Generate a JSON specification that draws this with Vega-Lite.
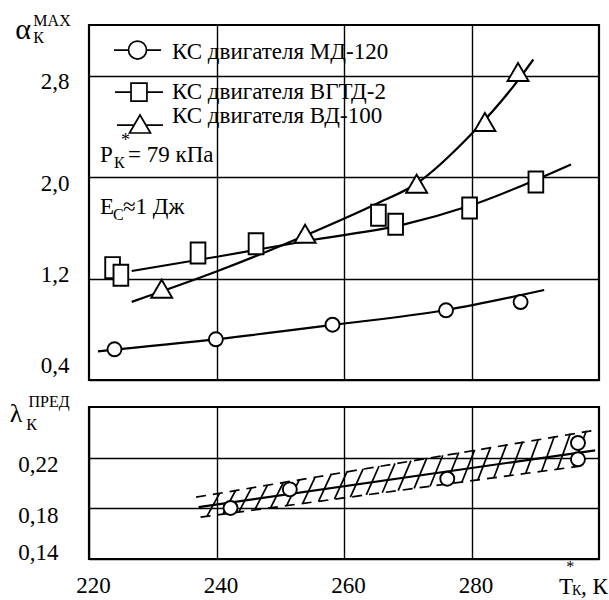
{
  "$schema": "https://vega.github.io/schema/vega-lite/v6.json",
  "padding": {"left": 8, "top": 11, "right": 0, "bottom": 0},
  "spacing": 27,
  "bounds": "flush",
  "config": {
    "view": {"stroke": "black", "strokeWidth": 2.2},
    "font": "Liberation Serif, DejaVu Serif, serif",
    "axis": {"labelFont": "Liberation Serif, DejaVu Serif, serif", "labelFontSize": 23, "labelColor": "black", "ticks": false, "domain": false, "grid": true, "gridColor": "black", "gridWidth": 1.4, "gridOpacity": 1},
    "text": {"font": "Liberation Serif, DejaVu Serif, serif", "color": "black"}
  },
  "datasets": {
    "curves": [
      {"s": "КС двигателя МД-120", "T": 221.4, "v": 0.626},
      {"s": "КС двигателя МД-120", "T": 240, "v": 0.722},
      {"s": "КС двигателя МД-120", "T": 258.2, "v": 0.834},
      {"s": "КС двигателя МД-120", "T": 276, "v": 0.952},
      {"s": "КС двигателя МД-120", "T": 291.4, "v": 1.11},
      {"s": "КС двигателя ВГТД-2", "T": 226.7, "v": 1.26},
      {"s": "КС двигателя ВГТД-2", "T": 240.5, "v": 1.376},
      {"s": "КС двигателя ВГТД-2", "T": 255.7, "v": 1.51},
      {"s": "КС двигателя ВГТД-2", "T": 269.3, "v": 1.625},
      {"s": "КС двигателя ВГТД-2", "T": 279.5, "v": 1.77},
      {"s": "КС двигателя ВГТД-2", "T": 295.6, "v": 2.1},
      {"s": "КС двигателя ВД-100", "T": 226.7, "v": 1.016},
      {"s": "КС двигателя ВД-100", "T": 240.5, "v": 1.265},
      {"s": "КС двигателя ВД-100", "T": 255.2, "v": 1.567},
      {"s": "КС двигателя ВД-100", "T": 265.1, "v": 1.79},
      {"s": "КС двигателя ВД-100", "T": 271.4, "v": 1.95},
      {"s": "КС двигателя ВД-100", "T": 279.8, "v": 2.33},
      {"s": "КС двигателя ВД-100", "T": 286.6, "v": 2.718},
      {"s": "КС двигателя ВД-100", "T": 289.7, "v": 2.928}
    ],
    "pts": [
      {"s": "КС двигателя МД-120", "T": 224.0, "v": 0.642},
      {"s": "КС двигателя МД-120", "T": 239.9, "v": 0.721},
      {"s": "КС двигателя МД-120", "T": 258.2, "v": 0.836},
      {"s": "КС двигателя МД-120", "T": 276.0, "v": 0.95},
      {"s": "КС двигателя МД-120", "T": 287.7, "v": 1.015},
      {"s": "КС двигателя ВГТД-2", "T": 223.7, "v": 1.286},
      {"s": "КС двигателя ВГТД-2", "T": 225.0, "v": 1.226},
      {"s": "КС двигателя ВГТД-2", "T": 237.1, "v": 1.402},
      {"s": "КС двигателя ВГТД-2", "T": 246.2, "v": 1.475},
      {"s": "КС двигателя ВГТД-2", "T": 265.4, "v": 1.699},
      {"s": "КС двигателя ВГТД-2", "T": 268.1, "v": 1.628},
      {"s": "КС двигателя ВГТД-2", "T": 279.7, "v": 1.757},
      {"s": "КС двигателя ВГТД-2", "T": 290.1, "v": 1.962},
      {"s": "КС двигателя ВД-100", "T": 231.4, "v": 1.12},
      {"s": "КС двигателя ВД-100", "T": 253.9, "v": 1.554},
      {"s": "КС двигателя ВД-100", "T": 271.4, "v": 1.948},
      {"s": "КС двигателя ВД-100", "T": 282.1, "v": 2.435},
      {"s": "КС двигателя ВД-100", "T": 287.3, "v": 2.829}
    ],
    "legendText": [
      {"s": "КС двигателя МД-120", "T": 233.02, "v": 2.9315},
      {"s": "КС двигателя ВГТД-2", "T": 233.02, "v": 2.616},
      {"s": "КС двигателя ВД-100", "T": 233.02, "v": 2.427}
    ],
    "lamPts": [
      {"T": 242.2, "v": 0.1803},
      {"T": 251.5, "v": 0.195},
      {"T": 276.2, "v": 0.2034},
      {"T": 296.7, "v": 0.2316},
      {"T": 296.7, "v": 0.2187}
    ],
    "lamLine": [
      {"T": 237.2, "v": 0.181},
      {"T": 299.4, "v": 0.2258}
    ],
    "bandEdges": [
      {"edge": "upper", "T": 236.8, "v": 0.1888},
      {"edge": "upper", "T": 298.8, "v": 0.2412},
      {"edge": "lower", "T": 237.5, "v": 0.173},
      {"edge": "lower", "T": 298.0, "v": 0.214}
    ],
    "hatch": [
      {"T": 238.5, "lo": 0.1737, "T2": 240.5, "hi": 0.192},
      {"T": 241, "lo": 0.1754, "T2": 243, "hi": 0.1941},
      {"T": 243.5, "lo": 0.1771, "T2": 245.5, "hi": 0.1963},
      {"T": 246, "lo": 0.1788, "T2": 248, "hi": 0.1984},
      {"T": 248.5, "lo": 0.1805, "T2": 250.5, "hi": 0.2005},
      {"T": 251, "lo": 0.1822, "T2": 253, "hi": 0.2027},
      {"T": 253.5, "lo": 0.1838, "T2": 255.5, "hi": 0.2048},
      {"T": 256, "lo": 0.1855, "T2": 258, "hi": 0.207},
      {"T": 258.5, "lo": 0.1872, "T2": 260.5, "hi": 0.2091},
      {"T": 261, "lo": 0.1889, "T2": 263, "hi": 0.2112},
      {"T": 263.5, "lo": 0.1906, "T2": 265.5, "hi": 0.2134},
      {"T": 266, "lo": 0.1923, "T2": 268, "hi": 0.2155},
      {"T": 268.5, "lo": 0.194, "T2": 270.5, "hi": 0.2176},
      {"T": 271, "lo": 0.1957, "T2": 273, "hi": 0.2198},
      {"T": 273.5, "lo": 0.1974, "T2": 275.5, "hi": 0.2219},
      {"T": 276, "lo": 0.1991, "T2": 278, "hi": 0.2241},
      {"T": 278.5, "lo": 0.2008, "T2": 280.5, "hi": 0.2262},
      {"T": 281, "lo": 0.2025, "T2": 283, "hi": 0.2283},
      {"T": 283.5, "lo": 0.2042, "T2": 285.5, "hi": 0.2305},
      {"T": 286, "lo": 0.2059, "T2": 288, "hi": 0.2326},
      {"T": 288.5, "lo": 0.2076, "T2": 290.5, "hi": 0.2347},
      {"T": 291, "lo": 0.2093, "T2": 293, "hi": 0.2369},
      {"T": 293.5, "lo": 0.211, "T2": 295.5, "hi": 0.239},
      {"T": 296, "lo": 0.2127, "T2": 298, "hi": 0.2412}
    ]
  },
  "vconcat": [
    {
      "width": 510,
      "height": 355,
      "encoding": {
        "x": {"field": "T", "type": "quantitative", "title": null, "scale": {"domain": [220, 300], "nice": false, "zero": false}, "axis": {"values": [240, 260, 280], "labels": false, "grid": true}},
        "y": {"field": "v", "type": "quantitative", "title": null, "scale": {"domain": [0.4, 3.2], "nice": false, "zero": false}, "axis": {"values": [0.4, 1.2, 2.0, 2.8], "labelExpr": "replace(format(datum.value, '.1f'), '.', ',')", "labelPadding": 20, "labelOffset": {"condition": [{"test": "datum.value < 0.8", "value": -15}, {"test": "datum.value < 1.6", "value": -4}], "value": 6}}}
      },
      "layer": [
        {
          "data": {"name": "curves"},
          "mark": {"type": "line", "interpolate": "monotone", "color": "black", "strokeWidth": 2.2},
          "encoding": {"detail": {"field": "s"}}
        },
        {
          "data": {"name": "pts"},
          "mark": {"type": "point", "filled": true, "fill": "white", "stroke": "black", "strokeWidth": 1.9, "size": 441, "opacity": 1},
          "encoding": {
            "shape": {
              "field": "s", "type": "nominal",
              "scale": {
                "domain": ["КС двигателя МД-120", "КС двигателя ВГТД-2", "КС двигателя ВД-100"],
                "range": ["M-0.667,0A0.667,0.667 0 1,0 0.667,0A0.667,0.667 0 1,0 -0.667,0Z", "M-0.7,-1H0.7V1H-0.7Z", "M0,-0.86L1,0.86H-1Z"]
              },
              "legend": null
            }
          }
        },
        {
          "data": {"values": [{"T": 227.61, "v": 3.0025}]},
          "mark": {"type": "point", "shape": "M-1.57,0H-0.6M0.6,0H1.57M-0.6,0A0.6,0.6 0 1,0 0.6,0A0.6,0.6 0 1,0 -0.6,0Z", "filled": true, "fill": "white", "stroke": "black", "strokeWidth": 1.7, "size": 900, "opacity": 1},
          "encoding": {}
        },
        {
          "data": {"values": [{"T": 227.84, "v": 2.671}]},
          "mark": {"type": "point", "shape": "M-1.6,0H-0.53M0.53,0H1.6M-0.53,-0.6H0.53V0.6H-0.53Z", "filled": true, "fill": "white", "stroke": "black", "strokeWidth": 1.7, "size": 900, "opacity": 1},
          "encoding": {}
        },
        {
          "data": {"values": [{"T": 228.0, "v": 2.419}]},
          "mark": {"type": "point", "shape": "M-1.53,0.07H-0.39M0.39,0.07H1.53M0,-0.6L0.7,0.6H-0.7Z", "filled": true, "fill": "white", "stroke": "black", "strokeWidth": 1.7, "size": 900, "opacity": 1},
          "encoding": {}
        },
        {
          "data": {"name": "legendText"},
          "mark": {"type": "text", "align": "left", "baseline": "alphabetic", "fontSize": 23, "font": "Liberation Serif, DejaVu Serif, serif", "color": "black"},
          "encoding": {"text": {"field": "s"}}
        },
        {
          "data": {"values": [
            {"T": 221.73, "v": 2.119, "label": "P"},
            {"T": 226.12, "v": 2.119, "label": "= 79 кПа"},
            {"T": 221.73, "v": 1.709, "label": "E"},
            {"T": 225.33, "v": 1.709, "label": "≈1 Дж"}
          ]},
          "mark": {"type": "text", "align": "left", "baseline": "alphabetic", "fontSize": 23, "font": "Liberation Serif, DejaVu Serif, serif", "color": "black"},
          "encoding": {"text": {"field": "label"}}
        },
        {
          "data": {"values": [
            {"T": 223.92, "v": 2.072, "label": "К"},
            {"T": 223.76, "v": 1.662, "label": "С"}
          ]},
          "mark": {"type": "text", "align": "left", "baseline": "alphabetic", "fontSize": 16, "font": "Liberation Serif, DejaVu Serif, serif", "color": "black"},
          "encoding": {"text": {"field": "label"}}
        },
        {
          "data": {"values": [
            {"T": 225.73, "v": 2.245, "label": "*"}
          ]},
          "mark": {"type": "text", "align": "center", "baseline": "alphabetic", "fontSize": 18, "font": "Liberation Serif, DejaVu Serif, serif", "color": "black"},
          "encoding": {"text": {"field": "label"}}
        },
        {
          "data": {"values": [
            {"T": 209.65, "v": 3.089, "label": "α"}
          ]},
          "mark": {"type": "text", "align": "center", "baseline": "alphabetic", "fontSize": 30, "font": "Liberation Serif, DejaVu Serif, serif", "color": "black"},
          "encoding": {"text": {"field": "label"}}
        },
        {
          "data": {"values": [
            {"T": 214.2, "v": 3.192, "label": "MAX"},
            {"T": 212.08, "v": 3.058, "label": "К"}
          ]},
          "mark": {"type": "text", "align": "center", "baseline": "alphabetic", "fontSize": 16, "font": "Liberation Serif, DejaVu Serif, serif", "color": "black"},
          "encoding": {"text": {"field": "label"}}
        }
      ]
    },
    {
      "width": 510,
      "height": 152,
      "encoding": {
        "x": {"field": "T", "type": "quantitative", "title": null, "scale": {"domain": [220, 300], "nice": false, "zero": false}, "axis": {"values": [220, 240, 260, 280], "labelPadding": 15, "labelOffset": 4, "labelFlush": false, "grid": true}},
        "y": {"field": "v", "type": "quantitative", "title": null, "scale": {"domain": [0.14, 0.26], "nice": false, "zero": false}, "axis": {"values": [0.14, 0.18, 0.22], "labelExpr": "replace(format(datum.value, '.2f'), '.', ',')", "labelPadding": 31, "labelOffset": {"condition": {"test": "datum.value < 0.16", "value": -7}, "value": 7}}}
      },
      "layer": [
        {
          "data": {"values": [{"T": 240}, {"T": 260}, {"T": 280}]},
          "mark": {"type": "rule", "color": "black", "strokeWidth": 1.4, "clip": false},
          "encoding": {
            "y": {"datum": 0.26},
            "y2": {"datum": 0.2815}
          }
        },
        {
          "data": {"name": "bandEdges"},
          "mark": {"type": "line", "color": "black", "strokeWidth": 1.7, "strokeDash": [10, 7]},
          "encoding": {"detail": {"field": "edge"}}
        },
        {
          "data": {"name": "hatch"},
          "mark": {"type": "rule", "color": "black", "strokeWidth": 1.7},
          "encoding": {
            "y": {"field": "lo", "type": "quantitative", "title": null},
            "x2": {"field": "T2"},
            "y2": {"field": "hi"}
          }
        },
        {
          "data": {"name": "lamLine"},
          "mark": {"type": "line", "color": "black", "strokeWidth": 2.2},
          "encoding": {}
        },
        {
          "data": {"name": "lamPts"},
          "mark": {"type": "point", "shape": "circle", "filled": true, "fill": "white", "stroke": "black", "strokeWidth": 1.9, "size": 196, "opacity": 1},
          "encoding": {}
        },
        {
          "data": {"values": [
            {"T": 208.55, "v": 0.2482, "label": "λ"}
          ]},
          "mark": {"type": "text", "align": "center", "baseline": "alphabetic", "fontSize": 26, "font": "Liberation Serif, DejaVu Serif, serif", "color": "black"},
          "encoding": {"text": {"field": "label"}}
        },
        {
          "data": {"values": [
            {"T": 213.73, "v": 0.26, "label": "ПРЕД"},
            {"T": 210.98, "v": 0.2418, "label": "К"}
          ]},
          "mark": {"type": "text", "align": "center", "baseline": "alphabetic", "fontSize": 16, "font": "Liberation Serif, DejaVu Serif, serif", "color": "black"},
          "encoding": {"text": {"field": "label"}}
        },
        {
          "data": {"values": [
            {"T": 293.72, "v": 0.1124, "label": "T"},
            {"T": 297.18, "v": 0.1124, "label": ", К"}
          ]},
          "mark": {"type": "text", "align": "left", "baseline": "alphabetic", "fontSize": 23, "font": "Liberation Serif, DejaVu Serif, serif", "color": "black"},
          "encoding": {"text": {"field": "label"}}
        },
        {
          "data": {"values": [
            {"T": 295.76, "v": 0.1116, "label": "К"}
          ]},
          "mark": {"type": "text", "align": "left", "baseline": "alphabetic", "fontSize": 14, "font": "Liberation Serif, DejaVu Serif, serif", "color": "black"},
          "encoding": {"text": {"field": "label"}}
        },
        {
          "data": {"values": [
            {"T": 295.5, "v": 0.1297, "label": "*"}
          ]},
          "mark": {"type": "text", "align": "center", "baseline": "alphabetic", "fontSize": 16, "font": "Liberation Serif, DejaVu Serif, serif", "color": "black"},
          "encoding": {"text": {"field": "label"}}
        }
      ]
    }
  ]
}
